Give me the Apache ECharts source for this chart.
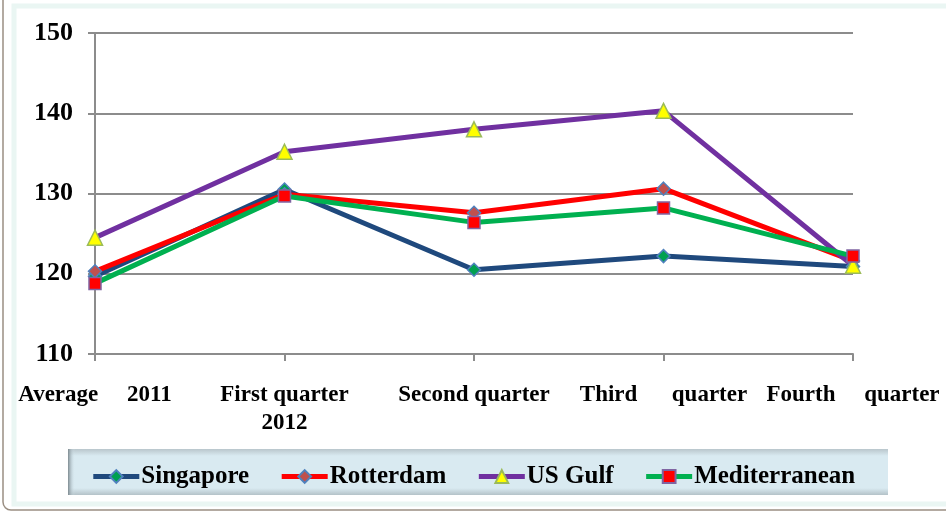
<!DOCTYPE html>
<html>
<head>
<meta charset="utf-8">
<script src="https://cdn.jsdelivr.net/npm/echarts@6/dist/echarts.min.js"></script>
<style>
  html, body { margin: 0; padding: 0; background: #fff; }
  #main { width: 946px; height: 515px; }
</style>
</head>
<body>
<div id="main"></div>
<script>
  // categories on the x axis
  var categories = ['Average     2011', 'First quarter\n2012', 'Second quarter', 'Third      quarter', 'Fourth     quarter'];
  // series values
  var singapore = [119.7, 130.5, 120.5, 122.2, 120.9];
  var rotterdam = [120.3, 129.9, 127.6, 130.6, 121.6];
  var usGulf = [124.5, 135.2, 138.0, 140.3, 121.0];
  var mediterranean = [118.8, 129.7, 126.4, 128.2, 122.2];
  var yTicks = [110, 120, 130, 140, 150];

  var font = 'Liberation Serif';
  var myChart = echarts.init(document.getElementById('main'));

  function line(name, data, color, symbol, size, fill, border) {
    return {
      name: name,
      type: 'line',
      data: data,
      symbol: symbol,
      symbolSize: size,
      showAllSymbol: true,
      lineStyle: { color: color, width: 5 },
      itemStyle: { color: fill, borderColor: border, borderWidth: 1.5 },
      z: 3
    };
  }

  myChart.setOption({
    animation: false,
    backgroundColor: '#fff',
    graphic: [
      {
        type: 'rect', z: -10,
        shape: { x: 3, y: -12, width: 960, height: 522, r: 8 },
        style: { fill: '#fff', stroke: '#9a8e82', lineWidth: 1.5 }
      },
      {
        type: 'rect', z: -9,
        shape: { x: 14, y: 6, width: 940, height: 498 },
        style: { fill: '#fff', stroke: '#eaf6f3', lineWidth: 5 }
      },
      {
        type: 'rect', z: -8,
        shape: { x: 68, y: 449, width: 820, height: 46 },
        style: {
          fill: new echarts.graphic.LinearGradient(0, 0, 0, 1, [
            { offset: 0, color: '#b9c6cc' },
            { offset: 0.15, color: '#d9eaf1' },
            { offset: 0.85, color: '#d9eaf1' },
            { offset: 1, color: '#b4c2c8' }
          ])
        }
      },
      {
        type: 'rect', z: -7,
        shape: { x: 68, y: 449, width: 7, height: 46 },
        style: {
          fill: new echarts.graphic.LinearGradient(0, 0, 1, 0, [
            { offset: 0, color: '#7d8a90' },
            { offset: 1, color: 'rgba(217,234,241,0)' }
          ])
        }
      }
    ],
    grid: { left: 95, right: 93, top: 33, bottom: 161, containLabel: false },
    legend: {
      top: 459,
      left: 'center',
      itemWidth: 46,
      itemHeight: 16,
      itemGap: 30,
      lineStyle: { width: 5 },
      textStyle: { fontFamily: font, fontWeight: 'bold', fontSize: 25, color: '#000', padding: [0, 0, 0, -3] },
      data: ['Singapore', 'Rotterdam', 'US Gulf', 'Mediterranean']
    },
    xAxis: {
      type: 'category',
      boundaryGap: false,
      data: categories,
      axisLine: { lineStyle: { color: '#8c8c8c', width: 2 } },
      axisTick: { show: true, length: 7, lineStyle: { color: '#8c8c8c', width: 2 } },
      axisLabel: {
        interval: 0, margin: 27,
        fontFamily: font, fontWeight: 'bold', fontSize: 23, lineHeight: 28, color: '#000'
      },
      splitLine: { show: false }
    },
    yAxis: {
      type: 'value',
      min: yTicks[0],
      max: yTicks[yTicks.length - 1],
      interval: 10,
      axisLine: { show: true, lineStyle: { color: '#8c8c8c', width: 2 } },
      axisTick: { show: true, length: 7, lineStyle: { color: '#8c8c8c', width: 2 } },
      axisLabel: { margin: 22, fontFamily: font, fontWeight: 'bold', fontSize: 26, color: '#000' },
      splitLine: { lineStyle: { color: '#8c8c8c', width: 2 } }
    },
    series: [
      line('Singapore', singapore, '#1f497d', 'diamond', 13, '#00a050', '#4f81bd'),
      line('Rotterdam', rotterdam, '#ff0000', 'diamond', 13, '#c0504d', '#4f81bd'),
      line('US Gulf', usGulf, '#7030a0', 'triangle', 15, '#ffff00', '#9bbb59'),
      line('Mediterranean', mediterranean, '#00b050', 'rect', 12, '#ff0000', '#8064a2')
    ]
  });
</script>
</body>
</html>
